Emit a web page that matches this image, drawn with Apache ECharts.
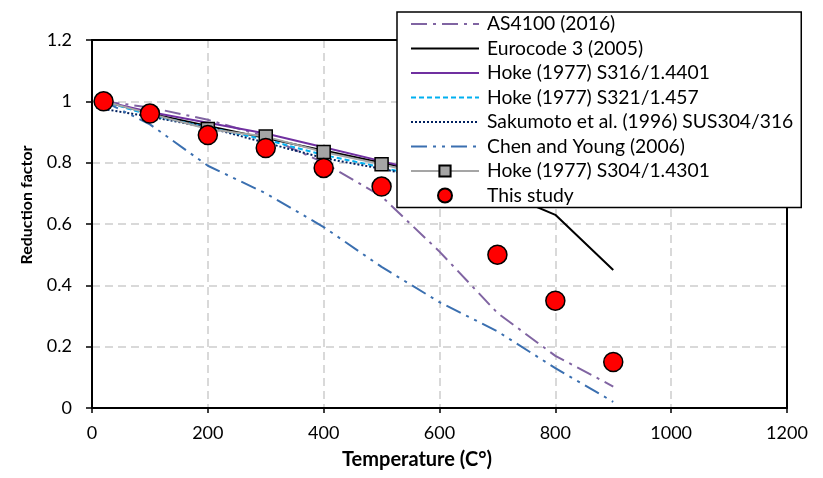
<!DOCTYPE html>
<html>
<head>
<meta charset="utf-8">
<script src="https://cdn.jsdelivr.net/npm/echarts@6/dist/echarts.min.js"></script>
<style>
  html, body { margin: 0; padding: 0; background: #fff; }
  #chart { width: 823px; height: 478px; }
</style>
</head>
<body>
<div id="chart"></div>
<script>
// Temperatures (°C) at which the reduction factors are given
const temps = [20, 100, 200, 300, 400, 500, 600, 700, 800, 900];
const hokeTemps = [20, 100, 200, 300, 400, 500, 600];
const studyTemps = [20, 100, 200, 300, 400, 500, 700, 800, 900];

// Reduction factors per source
const as4100 = [1.0, 0.98, 0.94, 0.885, 0.80, 0.69, 0.51, 0.31, 0.17, 0.07];
const eurocode3 = [1.0, 0.96, 0.92, 0.88, 0.84, 0.80, 0.76, 0.71, 0.63, 0.45];
const hokeS316 = [1.0, 0.965, 0.93, 0.895, 0.85, 0.805, 0.76];
const hokeS321 = [1.0, 0.955, 0.915, 0.875, 0.825, 0.785, 0.74];
const sakumoto = [0.975, 0.95, 0.915, 0.865, 0.815, 0.78, 0.74];
const chenYoung = [1.0, 0.925, 0.79, 0.70, 0.59, 0.46, 0.345, 0.25, 0.13, 0.02];
const hokeS304 = [1.0, 0.96, 0.91, 0.885, 0.835, 0.795, 0.75];
const thisStudy = [1.0, 0.96, 0.89, 0.848, 0.783, 0.722, 0.50, 0.35, 0.15];

const seriesNames = [
  'AS4100 (2016)',
  'Eurocode 3 (2005)',
  'Hoke (1977) S316/1.4401',
  'Hoke (1977) S321/1.457',
  'Sakumoto et al. (1996) SUS304/316',
  'Chen and Young (2006)',
  'Hoke (1977) S304/1.4301',
  'This study'
];
const xTitle = 'Temperature (C°)';
const yTitle = 'Reduction factor';

const pair = (xs, ys) => xs.map((x, i) => [x, ys[i]]);
const FONT = 'Lato, "Open Sans", sans-serif';

function lineSeries(name, xs, ys, color, type, width) {
  return {
    name: name,
    type: 'line',
    data: pair(xs, ys),
    symbol: 'none',
    lineStyle: { color: color, width: width || 2, type: type },
    itemStyle: { color: color },
    animation: false
  };
}

// Line-only series get a legend entry without a marker
const legendData = seriesNames.map((n, i) =>
  (i === 6 || i === 7) ? { name: n } : { name: n, itemStyle: { opacity: 0 } });

const frameAxis = { show: true, onZero: false, lineStyle: { color: '#000', width: 2 } };
const gridLine = { show: true, lineStyle: { color: '#d9d9d9', width: 2, type: [8, 5] } };

const chart = echarts.init(document.getElementById('chart'), null, { renderer: 'canvas' });

chart.setOption({
  backgroundColor: '#ffffff',
  textStyle: { fontFamily: FONT, color: '#000' },
  grid: { left: 92, right: 36, top: 40, bottom: 70, show: false },
  xAxis: [{
    type: 'value',
    min: 0, max: 1200, interval: 200,
    axisLine: frameAxis,
    axisTick: { show: true, inside: false, length: 5, lineStyle: { color: '#000', width: 1.5 } },
    axisLabel: { fontFamily: FONT, fontSize: 18, color: '#000', margin: 16, formatter: v => String(v) },
    splitLine: gridLine
  }, {
    type: 'value', position: 'top',
    min: 0, max: 1200, interval: 200,
    axisLine: frameAxis, axisTick: { show: false }, axisLabel: { show: false }, splitLine: { show: false }
  }],
  yAxis: [{
    type: 'value',
    min: 0, max: 1.2, interval: 0.2,
    axisLine: frameAxis,
    axisTick: { show: true, inside: false, length: 6, lineStyle: { color: '#000', width: 1.5 } },
    axisLabel: {
      fontFamily: FONT, fontSize: 18, color: '#000', margin: 20,
      formatter: v => String(Math.round(v * 10) / 10)
    },
    splitLine: gridLine
  }, {
    type: 'value', position: 'right',
    min: 0, max: 1.2, interval: 0.2,
    axisLine: frameAxis, axisTick: { show: false }, axisLabel: { show: false }, splitLine: { show: false }
  }],
  graphic: [{
    type: 'text', left: 417 - 75, top: 450,
    style: { text: xTitle, fontFamily: FONT, fontWeight: 'bold', fontSize: 20, fill: '#000' }
  }, {
    type: 'text', x: 26.5, y: 205, rotation: Math.PI / 2,
    style: {
      text: yTitle, fontFamily: FONT, fontWeight: 'bold', fontSize: 16, fill: '#000',
      align: 'center', verticalAlign: 'middle'
    }
  }],
  legend: {
    orient: 'vertical',
    left: 397, top: 12,
    padding: [2, 8, 2, 13],
    backgroundColor: '#fff',
    borderColor: '#000',
    borderWidth: 1.5,
    itemWidth: 68,
    itemHeight: 14,
    itemGap: 4.5,
    textStyle: { fontFamily: FONT, fontSize: 19.3, lineHeight: 20, color: '#000', padding: [0, 0, 0, 3] },
    data: legendData
  },
  series: [
    lineSeries(seriesNames[0], temps, as4100, '#8064a2', [16, 6, 3, 6]),
    lineSeries(seriesNames[1], temps, eurocode3, '#000000', 'solid'),
    lineSeries(seriesNames[2], hokeTemps, hokeS316, '#7030a0', 'solid'),
    lineSeries(seriesNames[3], hokeTemps, hokeS321, '#00b0f0', [5, 3]),
    lineSeries(seriesNames[4], hokeTemps, sakumoto, '#002060', [2, 2]),
    lineSeries(seriesNames[5], temps, chenYoung, '#3a6fb0', [16, 6, 3, 6, 3, 6]),
    {
      name: seriesNames[6],
      type: 'line',
      data: pair(hokeTemps, hokeS304),
      symbol: 'rect',
      symbolSize: 13,
      showSymbol: true,
      lineStyle: { color: '#a5a5a5', width: 2 },
      itemStyle: { color: '#a5a5a5', borderColor: '#000', borderWidth: 1.5 },
      animation: false
    },
    {
      name: seriesNames[7],
      type: 'scatter',
      data: pair(studyTemps, thisStudy),
      symbol: 'circle',
      symbolSize: 19,
      itemStyle: { color: '#ff0000', borderColor: '#000', borderWidth: 1.5, opacity: 1 },
      z: 3,
      animation: false
    }
  ]
});
</script>
</body>
</html>
